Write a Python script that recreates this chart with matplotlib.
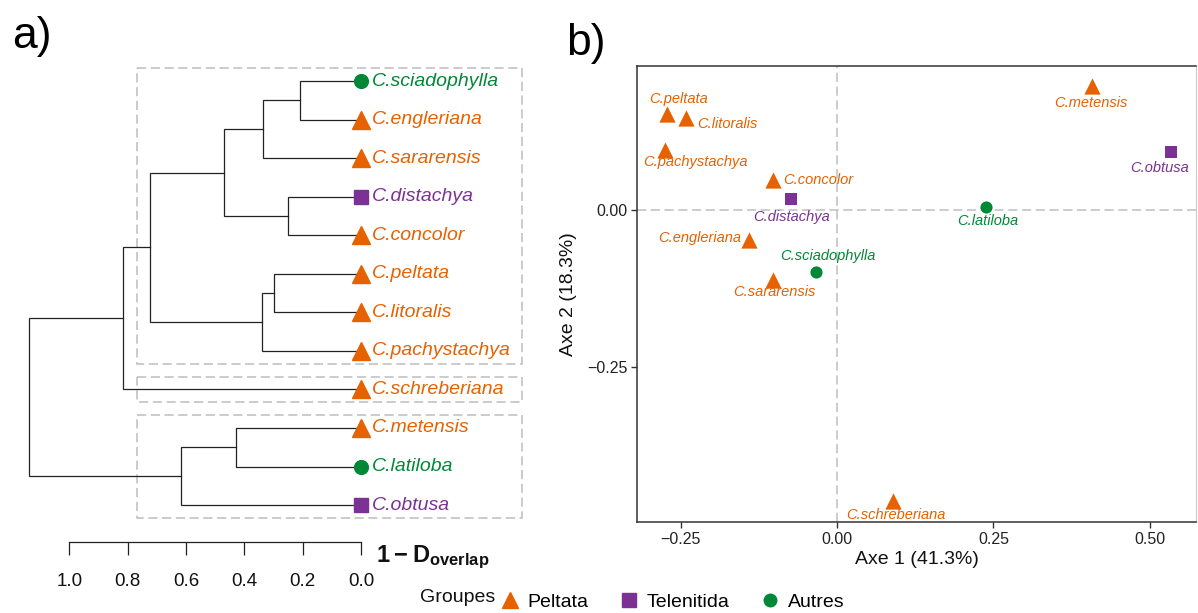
import numpy as np
import matplotlib
matplotlib.use("Agg")
import matplotlib.pyplot as plt
from matplotlib import font_manager
from matplotlib.patches import Rectangle
from matplotlib.lines import Line2D

plt.rcParams['font.family'] = ['Liberation Sans', 'DejaVu Sans']
plt.rcParams['mathtext.fontset'] = 'custom'
plt.rcParams['mathtext.rm'] = 'Liberation Sans'
plt.rcParams['mathtext.bf'] = 'Liberation Sans:bold'

# pick a sans family that really has an italic face
ital_family = 'DejaVu Sans'
_have = {(f.name, f.style) for f in font_manager.fontManager.ttflist}
for fam in ['Liberation Sans', 'Arimo', 'Roboto', 'Noto Sans', 'Open Sans', 'Lato']:
    if (fam, 'italic') in _have or (fam, 'oblique') in _have:
        ital_family = fam
        break

# ---- data ----
species = ['C.sciadophylla', 'C.engleriana', 'C.sararensis', 'C.distachya',
           'C.concolor', 'C.peltata', 'C.litoralis', 'C.pachystachya',
           'C.schreberiana', 'C.metensis', 'C.latiloba', 'C.obtusa']
groupe = ['Autres', 'Peltata', 'Peltata', 'Telenitida', 'Peltata', 'Peltata',
          'Peltata', 'Peltata', 'Peltata', 'Peltata', 'Autres', 'Telenitida']

# merges (scipy style: leaves 0..11, new nodes 12..)
merge_a = [0, 12, 3, 13, 5, 16, 15, 18, 9, 20, 19]
merge_b = [1, 2, 4, 14, 6, 7, 17, 8, 10, 11, 21]
merge_h = [0.209, 0.336, 0.249, 0.470, 0.298, 0.340, 0.722, 0.816, 0.429, 0.617, 1.138]

# clusters framed on the dendrogram (first leaf, last leaf)
clusters = [(0, 7), (8, 8), (9, 11)]

axe1 = [-0.033, -0.140, -0.102, -0.073, -0.103, -0.271, -0.241, -0.275,
        0.090, 0.408, 0.238, 0.533]
axe2 = [-0.098, -0.047, -0.111, 0.017, 0.047, 0.153, 0.146, 0.096,
        -0.463, 0.197, 0.004, 0.093]

group_names = ['Peltata', 'Telenitida', 'Autres']
colors = {'Peltata': '#E66100', 'Telenitida': '#7B3294', 'Autres': '#008837'}
markers = {'Peltata': '^', 'Telenitida': 's', 'Autres': 'o'}
msize = {'Peltata': 12, 'Telenitida': 9.5, 'Autres': 9}

# label placement in panel b (offset in points, ha)
lab_off = [(8, 11, 'center'), (-6, 1, 'right'), (1, -9, 'center'),
           (0, -13, 'center'), (8, 0, 'left'), (8, 11, 'center'),
           (8, -4, 'left'), (22, -9, 'center'), (2, -10, 'center'),
           (-1, -12, 'center'), (1, -10, 'center'), (-8, -12, 'center')]

W, H = 1198, 613
fig = plt.figure(figsize=(W / 100, H / 100), dpi=100)

# ---- panel a: dendrogram ----
axd = fig.add_axes([0, (H - 542) / H, 560 / W, (542 - 60) / H])
axd.set_xlim(1.238, -0.683)
axd.set_ylim(11.958, -0.545)

n = len(species)
pos = {i: (0.0, float(i)) for i in range(n)}
for k, (a, b, h) in enumerate(zip(merge_a, merge_b, merge_h)):
    xa, ya = pos[a]
    xb, yb = pos[b]
    axd.plot([xa, h, h, xb], [ya, ya, yb, yb], color='#222222', lw=0.9,
             solid_joinstyle='miter')
    pos[n + k] = (h, (ya + yb) / 2)

for c0, c1 in clusters:
    pad = 0.33
    axd.add_patch(Rectangle((0.768, c0 - pad), -0.552 - 0.768, c1 - c0 + 2 * pad,
                            fill=False, ec='#bdbdbd', lw=1.1,
                            ls=(0, (6, 3)), clip_on=False))

for i, (sp, g) in enumerate(zip(species, groupe)):
    axd.plot([0], [i], marker=markers[g], color=colors[g], ms=msize[g] * 1.1,
             ls='none', clip_on=False)
    axd.annotate(sp, (0, i), xytext=(8, 0), textcoords='offset points',
                 va='center', ha='left', fontsize=14, fontstyle='italic',
                 family=[ital_family, 'DejaVu Sans'], color=colors[g])

for s in ['top', 'left', 'right']:
    axd.spines[s].set_visible(False)
axd.spines['bottom'].set_bounds(0, 1)
axd.spines['bottom'].set_color('#222222')
axd.spines['bottom'].set_linewidth(0.9)
axd.set_yticks([])
axd.set_xticks([1.0, 0.8, 0.6, 0.4, 0.2, 0.0])
axd.set_xticklabels(['1.0', '0.8', '0.6', '0.4', '0.2', '0.0'])
axd.tick_params(axis='x', length=9.5, width=0.9, color='#222222', pad=13,
                labelsize=13.5, labelcolor='#111111')
fig.text(376 / W, 1 - 562 / H, r'$\mathbf{1-D_{overlap}}$', fontsize=17,
         va='baseline', ha='left', color='#111111')

# ---- panel b: ordination ----
axp = fig.add_axes([637 / W, (H - 522) / H, (1196 - 637) / W, (522 - 66) / H])
axp.set_xlim(-0.3195, 0.5735)
axp.set_ylim(-0.4968, 0.2293)
axp.axhline(0, color='#bfbfbf', lw=1.1, ls=(0, (6, 3)), zorder=0)
axp.axvline(0, color='#bfbfbf', lw=1.1, ls=(0, (6, 3)), zorder=0)

x1 = np.array(axe1)
x2 = np.array(axe2)
grp = np.array(groupe)
for g in group_names:
    m = grp == g
    axp.scatter(x1[m], x2[m], marker=markers[g], color=colors[g],
                s=msize[g] ** 2 * 0.95, linewidths=0, zorder=3)

for i, (sp, g) in enumerate(zip(species, groupe)):
    dx, dy, ha = lab_off[i]
    axp.annotate(sp, (axe1[i], axe2[i]), xytext=(dx, dy),
                 textcoords='offset points', ha=ha, va='center',
                 fontsize=10.5, fontstyle='italic',
                 family=[ital_family, 'DejaVu Sans'], color=colors[g],
                 annotation_clip=False, clip_on=True)

for s in ['top', 'left', 'bottom']:
    axp.spines[s].set_color('#333333')
    axp.spines[s].set_linewidth(1.1)
axp.spines['right'].set_color('#cccccc')
axp.spines['right'].set_linewidth(0.8)
axp.set_xticks([-0.25, 0.0, 0.25, 0.50])
axp.set_xticklabels(['\u22120.25', '0.00', '0.25', '0.50'])
axp.set_yticks([-0.25, 0.0])
axp.set_yticklabels(['\u22120.25', '0.00'])
axp.tick_params(length=4, width=1.0, color='#333333', labelsize=11.5,
                labelcolor='#222222', pad=3)
axp.set_xlabel('Axe 1 (41.3%)', fontsize=14, color='#111111', labelpad=3)
axp.set_ylabel('Axe 2 (18.3%)', fontsize=14, color='#111111', labelpad=7)

# panel letters
fig.text(12 / W, 1 - 48 / H, 'a)', fontsize=32, va='baseline', ha='left')
fig.text(566 / W, 1 - 55 / H, 'b)', fontsize=32, va='baseline', ha='left')

# ---- legend ----
fig.text(420 / W, 1 - 597 / H, 'Groupes', fontsize=14, va='center',
         ha='left', color='#111111')
handles = [Line2D([], [], marker=markers[g], color=colors[g], ls='none',
                  ms=msize[g]) for g in group_names]
fig.legend(handles, group_names, ncol=3, loc='center left',
           bbox_to_anchor=(500 / W, 1 - 602 / H), frameon=False,
           fontsize=14, handlelength=1.0, handletextpad=0.4,
           columnspacing=1.6, borderpad=0, borderaxespad=0)

fig.savefig('out.png', dpi=100)
